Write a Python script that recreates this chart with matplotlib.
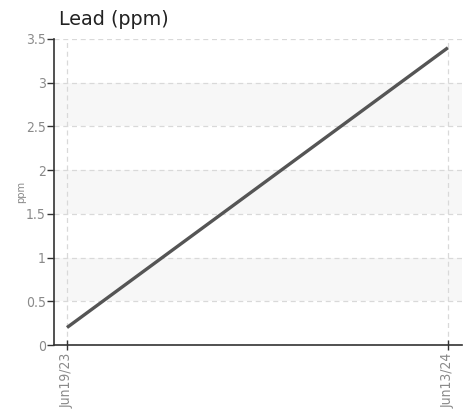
import matplotlib
matplotlib.use("Agg")
import matplotlib.pyplot as plt
import pandas as pd

dates = pd.to_datetime(["2023-06-19", "2024-06-13"])
lead = [0.2, 3.4]
date_labels = ["Jun19/23", "Jun13/24"]
yticks = [0, 0.5, 1, 1.5, 2, 2.5, 3, 3.5]
ytick_labels = ["0", "0.5", "1", "1.5", "2", "2.5", "3", "3.5"]

fig = plt.figure(figsize=(4.67, 4.13), dpi=100)
ax = fig.add_axes([0.1156, 0.1646, 0.989 - 0.1156, 0.9056 - 0.1646])

# alternating bands
for lo in [0.5, 1.5, 2.5]:
    ax.axhspan(lo, lo + 0.5, color="#f7f7f7", zorder=0, lw=0)

ax.plot(dates, lead, color="#555555", lw=2.4, solid_capstyle="butt", zorder=3)

ax.set_ylim(0, 3.5)
ax.set_xlim(dates[0] - pd.Timedelta(days=12.3), dates[1] + pd.Timedelta(days=13.2))
ax.set_yticks(yticks)
ax.set_yticklabels(ytick_labels)
ax.set_xticks(dates)
ax.set_xticklabels(date_labels, rotation=90)

ax.grid(True, color="#d9d9d9", linestyle=(0, (4, 3)), lw=0.9, zorder=1)
for s in ["top", "right"]:
    ax.spines[s].set_visible(False)
for s in ["left", "bottom"]:
    ax.spines[s].set_color("#333333")
    ax.spines[s].set_linewidth(1.2)

ax.tick_params(axis="y", length=5, width=1, color="#333333", labelcolor="#8a8a8a", labelsize=10, pad=1)
ax.tick_params(axis="x", direction="inout", length=7, width=1, color="#333333", labelcolor="#8a8a8a", labelsize=10, pad=2)
for t in ax.get_xticklabels() + ax.get_yticklabels():
    t.set_fontstretch("condensed")

ax.set_ylabel("ppm", fontsize=8, color="#8a8a8a", fontstretch="condensed")
ax.yaxis.set_label_coords(-0.0686, 0.5)
fig.text(59 / 467, 1 - 25 / 413, "Lead (ppm)", fontsize=13.8, color="#222222", va="baseline", ha="left")

fig.savefig("out.png", dpi=100)
